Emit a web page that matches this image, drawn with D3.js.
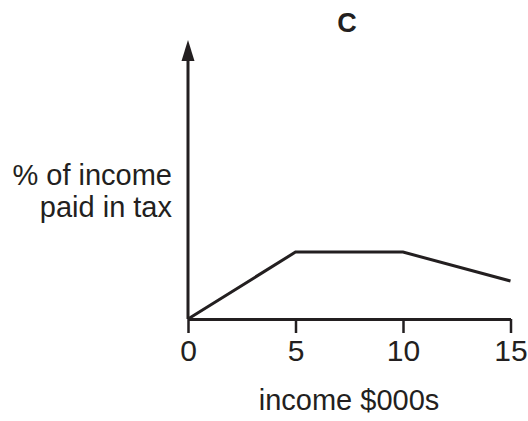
<!DOCTYPE html>
<html><head><meta charset="utf-8">
<script src="https://cdn.jsdelivr.net/npm/d3@7"></script>
<style>body{margin:0;background:#fff}svg{display:block}text{font-family:"Liberation Sans",Arial,sans-serif;fill:#231f20}</style>
</head><body><svg id="c" width="528" height="421"></svg>
<script>
const title = "C";
const xLabel = "income $000s";
const yLabelLines = ["% of income", "paid in tax"];
const xTicks = [0, 5, 10, 15];
const incomes = [0, 5, 10, 15];
const taxShare = [0, 3, 3, 1.7];
const yAxisTop = 12.5;

const svg = d3.select("#c");
const ink = "#231f20";
const x = d3.scaleLinear().domain([0, 15]).range([188, 510.5]);
const y = d3.scaleLinear().domain([0, yAxisTop]).range([319, 40]);

// x axis
const xAxis = d3.axisBottom(x).tickValues(xTicks).tickSize(14).tickPadding(7).tickSizeOuter(0);
const gx = svg.append("g").attr("transform", `translate(0,${y(0)})`).call(xAxis);
gx.select(".domain").attr("stroke", ink).attr("stroke-width", 3);
gx.selectAll(".tick line").attr("stroke", ink).attr("stroke-width", 2.5);
gx.selectAll(".tick text").attr("font-size", 30).attr("fill", ink).attr("dy", "0.71em")
  .attr("font-family", '"Liberation Sans",Arial,sans-serif');

// y axis with arrow
svg.append("line").attr("x1", x(0)).attr("x2", x(0)).attr("y1", y(0)).attr("y2", y(yAxisTop) + 18)
  .attr("stroke", ink).attr("stroke-width", 3);
const tipY = y(yAxisTop);
svg.append("path").attr("d", `M${x(0)},${tipY} L${x(0)-6.5},${tipY+21} L${x(0)+6.5},${tipY+21} Z`).attr("fill", ink);

// data line
const line = d3.line().x((d, i) => x(incomes[i])).y(d => y(d));
svg.append("path").datum(taxShare).attr("d", line).attr("fill", "none")
  .attr("stroke", ink).attr("stroke-width", 3).attr("stroke-linejoin", "miter");

// title
svg.append("text").attr("x", 347).attr("y", 32).attr("text-anchor", "middle")
  .attr("font-size", 27).attr("font-weight", "bold").text(title);

// y label
svg.append("text").attr("text-anchor", "end").attr("font-size", 29)
  .selectAll("tspan").data(yLabelLines).join("tspan")
  .attr("x", 172).attr("y", (d, i) => 185 + i * 32).text(d => d);

// x label
svg.append("text").attr("x", 349).attr("y", 410).attr("text-anchor", "middle")
  .attr("font-size", 29).text(xLabel);
</script></body></html>
